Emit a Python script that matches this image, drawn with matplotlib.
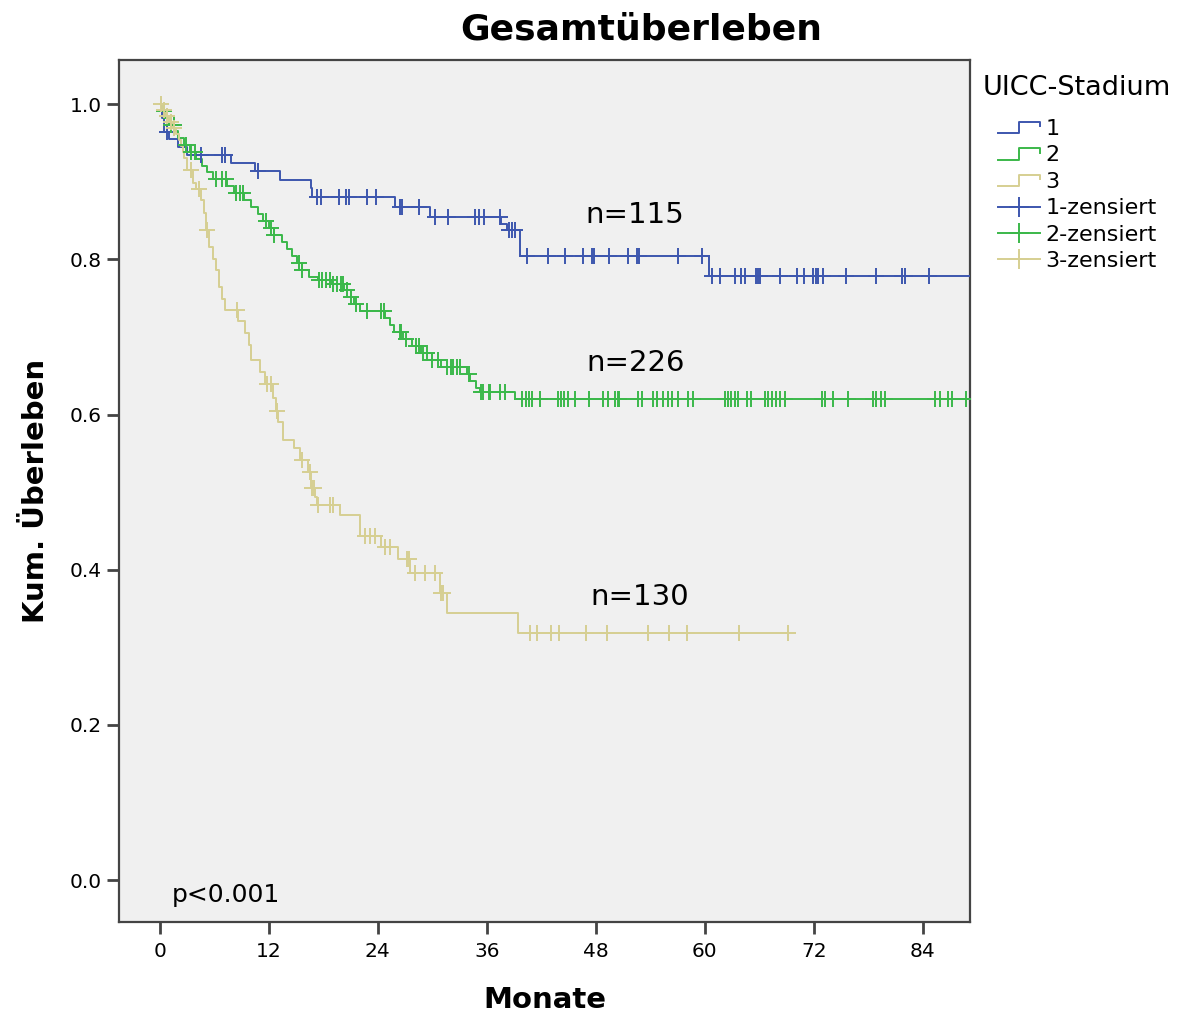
import numpy as np
import matplotlib
matplotlib.use("Agg")
import matplotlib.pyplot as plt
from matplotlib.lines import Line2D
from matplotlib.legend_handler import HandlerBase

plt.rcParams['font.family'] = ['DejaVu Sans']

# UICC stage 1: event times (months) and survival after each event
stage1_times = [0.2, 0.5, 1.0, 2.0, 3.0, 7.8, 10.5, 13.2, 16.6, 16.8, 25.9, 29.7,
                37.6, 38.2, 39.6, 60.5]
stage1_surv = [0.982, 0.964, 0.955, 0.945, 0.934, 0.924, 0.914, 0.902, 0.892, 0.881,
               0.868, 0.855, 0.845, 0.838, 0.804, 0.778]
stage1_censored = [0.8, 4.5, 6.8, 7.2, 10.8, 17.3, 17.7, 19.7, 20.5, 20.8, 22.8, 23.8,
                   26.4, 26.7, 28.5, 30.3, 31.7, 34.7, 35.1, 35.7, 37.4, 38.4, 38.8,
                   39.1, 40.4, 42.7, 44.6, 46.6, 47.6, 47.8, 49.5, 51.5, 52.5, 52.8,
                   57.1, 59.7, 60.8, 61.7, 63.3, 64.0, 64.4, 65.6, 65.9, 66.1, 68.3,
                   70.1, 70.9, 71.9, 72.2, 72.5, 73.0, 75.6, 78.9, 81.7, 82.1, 84.7,
                   95.0]

# UICC stage 2
stage2_times = [0.3, 0.6, 1.0, 1.6, 2.0, 2.6, 3.3, 4.0, 4.6, 5.2, 5.8, 7.4, 8.2, 9.3,
                10.0, 10.8, 11.4, 12.0, 12.6, 13.4, 14.0, 14.6, 15.1, 15.6, 16.4,
                17.4, 19.0, 20.3, 21.0, 21.4, 22.0, 24.8, 25.3, 25.8, 26.8, 27.8,
                28.8, 30.0, 31.0, 33.8, 34.2, 34.8, 35.3, 39.1]
stage2_surv = [0.991, 0.982, 0.973, 0.965, 0.956, 0.947, 0.938, 0.930, 0.921, 0.912,
               0.903, 0.894, 0.885, 0.876, 0.867, 0.858, 0.849, 0.840, 0.831, 0.822,
               0.813, 0.804, 0.795, 0.786, 0.777, 0.773, 0.768, 0.760, 0.751, 0.742,
               0.733, 0.724, 0.715, 0.706, 0.697, 0.688, 0.679, 0.670, 0.661, 0.652,
               0.643, 0.634, 0.629, 0.620]
stage2_censored = [0.4, 1.2, 1.5, 2.9, 3.4, 3.9, 6.2, 6.8, 7.3, 8.4, 8.8, 9.2, 11.7,
                   12.2, 12.6, 15.3, 15.7, 17.5, 17.9, 18.3, 18.7, 19.1, 19.5, 19.9,
                   20.2, 20.6, 21.0, 21.6, 22.8, 24.4, 24.7, 26.4, 26.6, 27.1, 28.2,
                   28.5, 29.0, 29.4, 30.0, 30.6, 31.6, 32.0, 32.3, 32.7, 33.0, 34.0,
                   35.4, 35.6, 36.2, 36.4, 37.4, 38.0, 39.9, 40.3, 40.6, 41.0, 41.8,
                   43.8, 44.2, 44.5, 44.9, 45.7, 47.3, 48.8, 49.3, 50.1, 50.4, 50.6,
                   52.6, 53.1, 54.3, 54.7, 55.4, 55.9, 56.4, 57.0, 58.1, 58.7, 62.2,
                   62.6, 62.9, 63.3, 63.7, 64.6, 65.1, 66.6, 67.0, 67.4, 67.8, 68.3,
                   68.8, 72.9, 73.2, 74.1, 75.8, 78.5, 78.9, 79.4, 79.8, 85.3, 85.9,
                   86.8, 87.2, 88.8, 95.0]

# UICC stage 3
stage3_times = [0.3, 0.7, 1.0, 1.4, 1.8, 2.1, 2.3, 2.5, 2.7, 3.0, 3.6, 4.0, 4.5, 4.8,
                5.1, 5.4, 5.8, 6.2, 6.5, 6.8, 7.2, 8.6, 9.4, 9.8, 10.0, 11.0, 11.6,
                12.4, 12.8, 13.0, 13.6, 14.8, 15.4, 16.3, 16.6, 17.1, 17.3, 19.8,
                22.0, 24.4, 26.2, 27.5, 30.8, 31.6, 39.4]
stage3_surv = [0.992, 0.985, 0.977, 0.969, 0.962, 0.954, 0.946, 0.938, 0.931, 0.915,
               0.899, 0.891, 0.876, 0.860, 0.838, 0.816, 0.801, 0.786, 0.764, 0.749,
               0.735, 0.720, 0.705, 0.690, 0.670, 0.655, 0.640, 0.622, 0.605, 0.590,
               0.567, 0.557, 0.541, 0.526, 0.506, 0.494, 0.483, 0.470, 0.443, 0.429,
               0.414, 0.396, 0.370, 0.344, 0.318]
stage3_censored = [0.1, 0.4, 0.8, 1.2, 1.6, 3.4, 4.3, 5.2, 8.5, 11.8, 12.2, 12.9, 15.6,
                   16.5, 16.8, 17.0, 17.4, 18.7, 19.1, 22.6, 23.1, 23.7, 24.8, 25.3,
                   27.2, 27.4, 28.1, 29.2, 30.3, 30.9, 31.2, 40.8, 41.5, 43.1, 44.0,
                   46.9, 49.2, 53.8, 56.1, 58.0, 63.8, 69.2]

group_labels = ['1', '2', '3']
group_sizes = [115, 226, 130]
group_colors = ['#3d56ae', '#3bb84a', '#d6cf92']
x_ticks = [0, 12, 24, 36, 48, 60, 72, 84]
y_ticks = [0.0, 0.2, 0.4, 0.6, 0.8, 1.0]

groups = [
    (stage1_times, stage1_surv, stage1_censored),
    (stage2_times, stage2_surv, stage2_censored),
    (stage3_times, stage3_surv, stage3_censored),
]
# positions of the group size labels (months, survival)
n_label_pos = [(52.3, 0.857), (52.4, 0.666), (52.8, 0.365)]

fig = plt.figure(figsize=(11.81, 10.15), dpi=100)
ax = fig.add_axes([0.1008, 0.0916, 0.7205, 0.8493])
ax.set_facecolor('#f0f0f0')


def survival_at(times, surv, t):
    """Kaplan-Meier value just after time t."""
    xs = np.concatenate([[0.0], times])
    ys = np.concatenate([[1.0], surv])
    idx = np.searchsorted(xs, t, side='right') - 1
    return ys[idx]


for (times, surv, cens), color in zip(groups, group_colors):
    times = np.asarray(times)
    surv = np.asarray(surv)
    cens = np.asarray(cens)
    end = max(times.max(), cens.max())
    xs = np.concatenate([[0.0], times, [end]])
    ys = np.concatenate([[1.0], surv, [surv[-1]]])
    ax.step(xs, ys, where='post', color=color, lw=1.4, zorder=3)
    ax.plot(cens, survival_at(times, surv, cens), linestyle='none', marker='+',
            markersize=11, markeredgewidth=1.4, color=color, zorder=4)

for (x, y), n in zip(n_label_pos, group_sizes):
    ax.text(x, y, f'n={n}', ha='center', va='center', fontsize=21, color='black')

ax.text(7.3, -0.019, 'p<0.001', ha='center', va='center', fontsize=18)

ax.set_xlim(-4.5, 89.2)
ax.set_ylim(-0.054, 1.057)
ax.set_xticks(x_ticks)
ax.set_yticks(y_ticks)
ax.set_yticklabels([f'{v:.1f}' for v in y_ticks])
ax.tick_params(axis='both', direction='out', length=8.5, width=2, color='#444444',
               labelsize=14.5, pad=4)
ax.tick_params(axis='x', pad=6)
for s in ax.spines.values():
    s.set_color('#444444')
    s.set_linewidth(1.6)

fig.text(641 / 1181, 1 - 29 / 1015, 'Gesamtüberleben', fontsize=26,
         fontweight='bold', ha='center', va='center')
ax.set_xlabel('Monate', fontsize=21, fontweight='bold', labelpad=18)
ax.set_ylabel('Kum. Überleben', fontsize=21, fontweight='bold', labelpad=14)


class StepHandler(HandlerBase):
    def create_artists(self, legend, orig_handle, xdescent, ydescent, width, height,
                       fontsize, trans):
        x0 = -xdescent
        y0 = -ydescent
        xs = [x0, x0 + 0.5 * width, x0 + 0.5 * width, x0 + width, x0 + width]
        ys = [y0 + 0.1 * height, y0 + 0.1 * height, y0 + 0.85 * height,
              y0 + 0.85 * height, y0 + 0.55 * height]
        line = Line2D(xs, ys, color=orig_handle.get_color(), lw=1.4, transform=trans)
        return [line]


class CensorHandler(HandlerBase):
    def create_artists(self, legend, orig_handle, xdescent, ydescent, width, height,
                       fontsize, trans):
        x0 = -xdescent
        yc = -ydescent + 0.5 * height
        line = Line2D([x0, x0 + width], [yc, yc], color=orig_handle.get_color(),
                      lw=1.4, transform=trans)
        mark = Line2D([x0 + 0.5 * width], [yc], color=orig_handle.get_color(),
                      marker='+', markersize=15, markeredgewidth=1.4,
                      linestyle='none', transform=trans)
        return [line, mark]


class CensorKey(Line2D):
    pass


step_handles = [Line2D([], [], color=c) for c in group_colors]
cens_handles = [CensorKey([], [], color=c) for c in group_colors]
handles = step_handles + cens_handles
labels = group_labels + [f'{g}-zensiert' for g in group_labels]

fig.text(983 / 1181, 1 - 88 / 1015, 'UICC-Stadium', fontsize=19.5,
         ha='left', va='center')
leg = fig.legend(handles, labels, loc='upper left',
                 bbox_to_anchor=(998 / 1181, 1 - 119 / 1015),
                 frameon=False, fontsize=16, borderpad=0, borderaxespad=0,
                 handlelength=1.9, handletextpad=0.22, labelspacing=0.29,
                 handler_map={CensorKey: CensorHandler(), Line2D: StepHandler()})

fig.savefig('out.png', dpi=100)
